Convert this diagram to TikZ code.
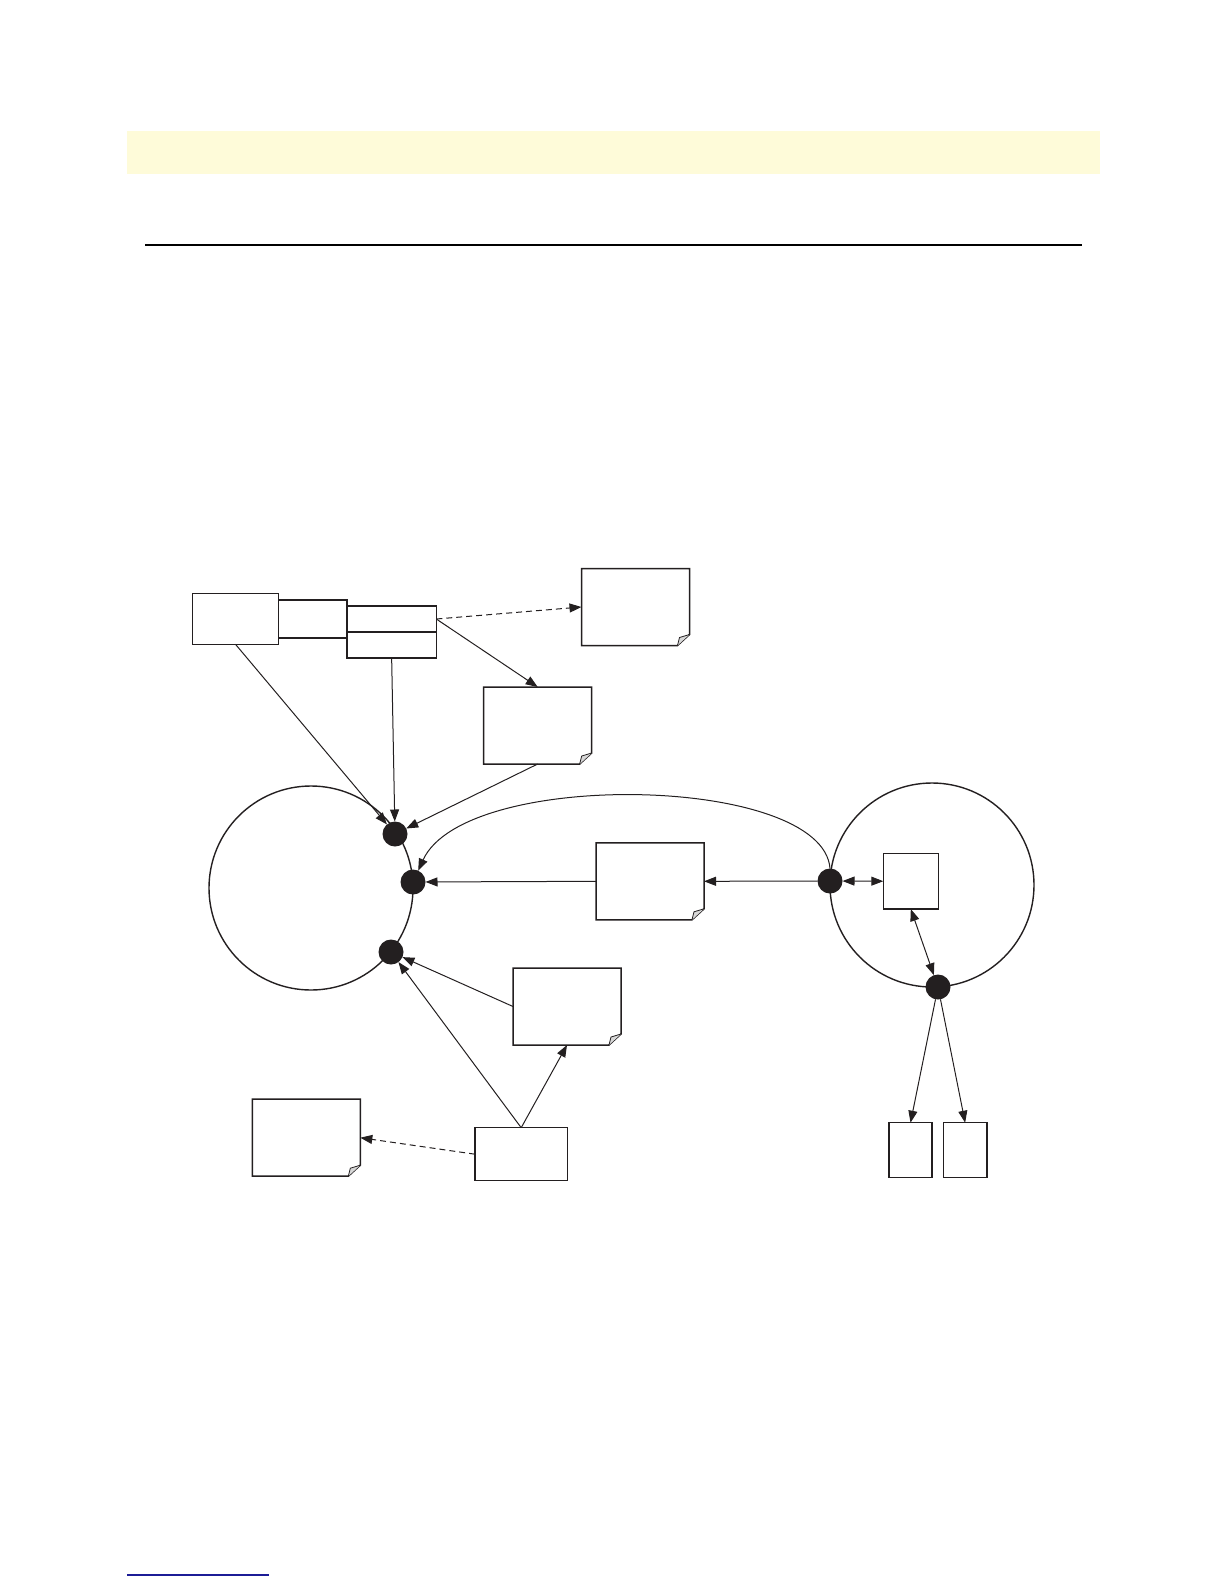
\documentclass[tikz,border=0pt]{standalone}
\usepackage{tikz}
\usetikzlibrary{%
	arrows.meta,%
	positioning,%
}
\definecolor{cdark}{RGB}{35, 31, 32}
\definecolor{cband}{RGB}{254, 251, 217}
\definecolor{clink}{RGB}{28, 28, 150}
\definecolor{cfold}{RGB}{215, 215, 215}
\tikzset{
	>=Triangle,%
	box/.style={%
			draw=cdark,%
			rectangle,%
			line width=1.5pt,%
			inner sep=0,%
			outer sep=0,%
			fill=white},%
	note/.style={%
			rectangle,%
			inner sep=0,%
			outer sep=0,%
			minimum width=108pt,%
			minimum height=77pt},%
	ring/.style={%
			draw=cdark,%
			circle,%
			line width=1.4pt,%
			inner sep=0,%
			outer sep=0,%
			minimum size=204pt},%
	port/.style={%
			circle,%
			fill=cdark,%
			inner sep=0,%
			outer sep=0,%
			minimum size=25pt},%
	link/.style={%
			draw=cdark,%
			line width=1pt,%
			-{Triangle[length=12pt,width=9pt]}},%
	duallink/.style={%
			link,%
			{Triangle[length=12pt,width=9pt]}-{Triangle[length=12pt,width=9pt]}},%
	weaklink/.style={%
			link,%
			dash pattern=on 6pt off 4pt},%
}
\newcommand{\notesheet}[1]{%
	\draw[cdark, line width=1.5pt, fill=white] (#1.north west) -- (#1.north east) -- ([yshift=11pt]#1.south east) -- ([xshift=-12pt]#1.south east) -- (#1.south west) -- cycle;
	\draw[cdark, line width=0.8pt, fill=cfold] ([yshift=11pt]#1.south east) -- ([xshift=-10pt, yshift=8pt]#1.south east) -- ([xshift=-12pt]#1.south east);
}

\begin{document}
\begin{tikzpicture}[x=1pt, y=-1pt]
	\useasboundingbox (0,0) rectangle (1224,1584);

	\fill[cband] (127,131) rectangle (1100,174);
	\draw[black, line width=1.2pt] (145,245) -- (1082,245);
	\draw[clink, line width=1.5pt] (127,1575) -- (269,1575);

	\node[ring] (hub) at (311,888) {};
	\node[ring] (peer) at (932,885) {};

	\node[port] (d1) at (395,834) {};
	\node[port] (d2) at (413,882) {};
	\node[port] (d3) at (391,952) {};
	\node[port] (d4) at (830,881) {};
	\node[port] (d5) at (938,987) {};

	\node[box, minimum width=85.6pt, minimum height=50.6pt] (src) at (235.5,619) {};
	\node[box, minimum width=68.7pt, minimum height=37.7pt, right=0pt of src] (mid) {};
	\node[box, minimum width=89.3pt, minimum height=25.7pt, right=0pt of mid] (ctop) {};
	\node[box, minimum width=89.3pt, minimum height=26.3pt, below=0pt of ctop] (cbot) {};

	\node[note] (n1) at (635.5,607) {};
	\node[note] (n2) at (537.7,725.5) {};
	\node[note] (n3) at (650,881.3) {};
	\node[note] (n4) at (567,1006.5) {};
	\node[note] (n5) at (306.3,1137.7) {};
	\notesheet{n1}
	\notesheet{n2}
	\notesheet{n3}
	\notesheet{n4}
	\notesheet{n5}

	\node[box, minimum width=92.3pt, minimum height=53pt] (feed) at (521.2,1154.2) {};
	\node[box, minimum width=55pt, minimum height=55.7pt] (core) at (910.8,881.2) {};
	\node[box, minimum width=43pt, minimum height=54.6pt] (f1) at (910.5,1150) {};
	\node[box, minimum width=43.7pt, minimum height=54.6pt, right=11.3pt of f1] (f2) {};

	\draw[link] (src.south) -- (d1);
	\draw[link] (cbot.south) -- (d1);
	\draw[link] (n2.south) -- (d1);
	\draw[weaklink] (ctop.east) -- (n1.west);
	\draw[link] (ctop.east) -- (n2.north);
	\draw[link] (d4.north) .. controls (823,775) and (465,768) .. (d2);
	\draw[link] (d4) -- (n3.east);
	\draw[link] (n3.west) -- (d2);
	\draw[duallink] (d4) -- (core.west);
	\draw[duallink] (core.south) -- (d5);
	\draw[link] (d5) -- (f1.north);
	\draw[link] (d5) -- (f2.north);
	\draw[link] (n4.west) -- (d3);
	\draw[link] (feed.north) -- (d3);
	\draw[link] (feed.north) -- (n4.south);
	\draw[weaklink] (feed.west) -- (n5.east);
\end{tikzpicture}
\end{document}
